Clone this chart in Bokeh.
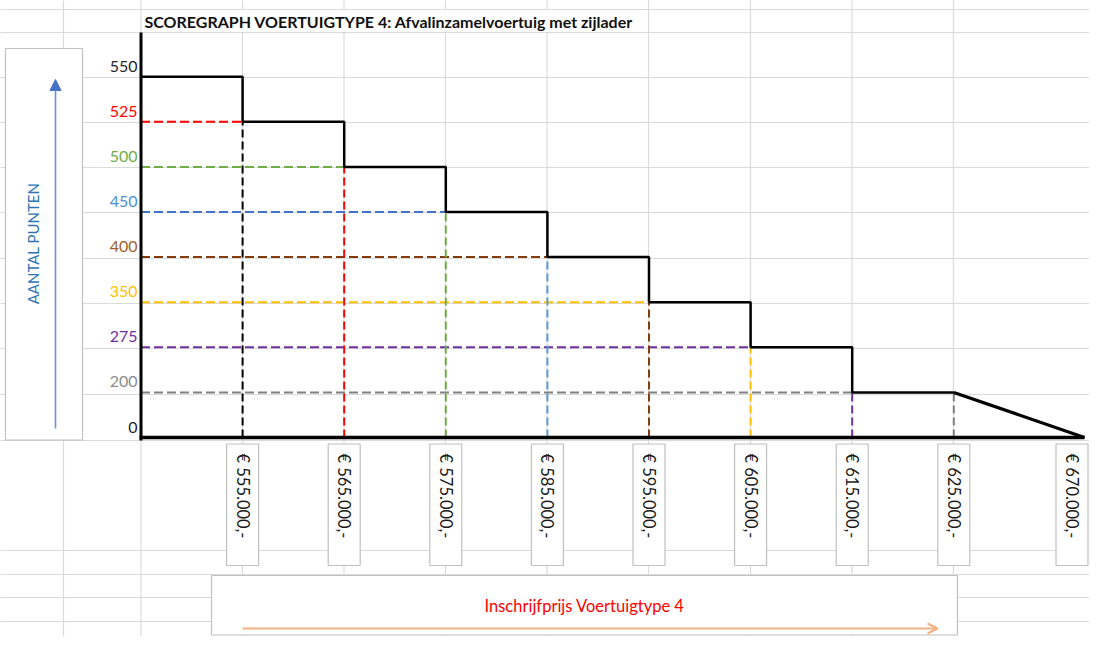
import math
from bokeh.plotting import figure
from bokeh.models import Range1d, Arrow, NormalHead, OpenHead
from bokeh.core.properties import value
from bokeh.embed import file_html
from bokeh.resources import INLINE

# ---------------- data ----------------
TITLE = "SCOREGRAPH VOERTUIGTYPE 4: Afvalinzamelvoertuig met zijlader"
Y_TITLE = "AANTAL PUNTEN"
X_TITLE = "Inschrijfprijs Voertuigtype 4"

prices = [555000, 565000, 575000, 585000, 595000, 605000, 615000, 625000, 670000]
price_labels = ["€ 555.000,-", "€ 565.000,-", "€ 575.000,-", "€ 585.000,-",
                "€ 595.000,-", "€ 605.000,-", "€ 615.000,-", "€ 625.000,-",
                "€ 670.000,-"]
scores = [550, 525, 500, 450, 400, 350, 275, 200, 0]

# ---------------- styles ----------------
score_line_colors = ["#000000", "#ff0000", "#70ad47", "#4472c4", "#843c0c",
                     "#ffc000", "#7030a0", "#808080", "#000000"]
score_text_colors = ["#262626", "#ff0000", "#70ad47", "#4a90d9", "#a0612a",
                     "#ffc000", "#7030a0", "#8c8c8c", "#262626"]
price_line_colors = ["#000000", "#ff0000", "#70ad47", "#5b9bd5", "#843c0c",
                     "#ffc000", "#7030a0", "#808080"]
GRID = "#dadada"
BOXLINE = "#c0c0c0"
FONT = "Lato"

# ---------------- layout mapping (screen px -> ordinal units) ----------------
X0, DX = 140.5, 101.6     # px of the value axis, px per price column
Y0, DY = 437.0, 45.1      # px of the price axis, px per score level
W, H = 1089, 636


def fx(px):
    return (px - X0) / DX


def fy(py):
    return (Y0 - py) / DY


n = len(prices)
# ordinal position of each price; the last price stands apart from the others
xi = list(range(1, n)) + [fx(1084)]
levels = sorted(set(scores))
lvl = {s: i for i, s in enumerate(levels)}

p = figure(width=W, height=H, output_backend="svg", toolbar_location=None,
           x_range=Range1d(fx(0), fx(W)), y_range=Range1d(fy(H), fy(0)),
           x_axis_type=None, y_axis_type=None, min_border=0,
           outline_line_color=None, background_fill_color="white")
p.grid.visible = False

# ---------------- spreadsheet grid ----------------
row_px = [9, 32, 77, 122, 167, 212, 258, 303, 348, 394, 440, 550, 574, 597, 621, 644]
col_px = [63, 140.5, 242, 343.5, 445, 546.5, 648, 750, 851.5, 953]
p.segment(x0=[fx(-10)] * len(row_px), x1=[fx(1200)] * len(row_px),
          y0=[fy(v) for v in row_px], y1=[fy(v) for v in row_px],
          line_color=GRID, line_width=1.2)
vx0, vx1, vy0, vy1 = [], [], [], []
for c in col_px:
    if 200 < c < 600:   # title text overflows these cells
        vx0 += [fx(c), fx(c)]; vx1 += [fx(c), fx(c)]
        vy0 += [fy(-10), fy(32)]; vy1 += [fy(9), fy(700)]
    else:
        vx0.append(fx(c)); vx1.append(fx(c)); vy0.append(fy(-10)); vy1.append(fy(700))
p.segment(x0=vx0, x1=vx1, y0=vy0, y1=vy1, line_color=GRID, line_width=1.2)

# ---------------- boxes ----------------
p.quad(left=[fx(5)], right=[fx(82)], top=[fy(48)], bottom=[fy(439.5)],
       fill_color="white", line_color=BOXLINE, line_width=1.2)
p.quad(left=[fx(211)], right=[fx(957)], top=[fy(575)], bottom=[fy(634.5)],
       fill_color="white", line_color=BOXLINE, line_width=1.2)
half = 16 / DX
lab_x = [min(x, fx(W - 1.5) - half) for x in xi]
p.quad(left=[x - half for x in lab_x], right=[x + half for x in lab_x],
       top=[fy(443.5)] * n, bottom=[fy(565)] * n,
       fill_color="white", line_color=BOXLINE, line_width=1.2)

# ---------------- dashed guide lines ----------------
hx0, hx1, hy, hc = [], [], [], []
for i in range(1, 8):
    hx0.append(0); hx1.append(xi[i - 1]); hy.append(lvl[scores[i]]); hc.append(score_line_colors[i])
p.segment(x0=hx0, x1=hx1, y0=hy, y1=hy, line_color=hc, line_width=2, line_dash="9 4")

vx, vtop, vc = [], [], []
for i in range(8):
    vx.append(xi[i]); vtop.append(lvl[scores[min(i + 1, 7)]]); vc.append(price_line_colors[i])
p.segment(x0=vx, x1=vx, y0=[0] * len(vx), y1=vtop, line_color=vc, line_width=2, line_dash="8 4")

# ---------------- step line ----------------
sx = [0]
sy = [lvl[scores[0]]]
for i in range(7):
    sx += [xi[i], xi[i]]
    sy += [lvl[scores[i]], lvl[scores[i + 1]]]
sx += [xi[7], xi[8]]
sy += [lvl[scores[7]], lvl[scores[8]]]
p.line(sx[:-1], sy[:-1], line_color="black", line_width=2.5)
p.line(sx[-2:], sy[-2:], line_color="black", line_width=3.2)

# ---------------- axes lines ----------------
p.segment(x0=[0], x1=[0], y0=[fy(440)], y1=[fy(32)], line_color="black", line_width=3)
p.segment(x0=[fx(139)], x1=[xi[-1]], y0=[0], y1=[0], line_color="black", line_width=3.5)

# ---------------- tick labels ----------------
p.text(x=[fx(137)] * n, y=[lvl[s] + 10.5 / DY for s in scores], text=[str(s) for s in scores],
       text_color=score_text_colors, text_align="right", text_baseline="middle",
       text_font=value(FONT), text_font_size="16px")
p.text(x=lab_x, y=[fy(453)] * n, text=price_labels, angle=-math.pi / 2,
       text_color="#1a1a1a", text_align="left", text_baseline="middle",
       text_font=value(FONT), text_font_size="16.5px")

# ---------------- titles ----------------
p.text(x=[fx(144)], y=[fy(21)], text=[TITLE], text_color="#111111",
       text_align="left", text_baseline="middle", text_font=value(FONT),
       text_font_size="16px", text_font_style="bold")
p.text(x=[fx(32)], y=[fy(243)], text=[Y_TITLE], angle=math.pi / 2,
       text_color="#2e75b6", text_align="center", text_baseline="middle",
       text_font=value(FONT), text_font_size="15px")
p.text(x=[fx(584)], y=[fy(605)], text=[X_TITLE], text_color="#ff0000",
       text_align="center", text_baseline="middle", text_font=value(FONT),
       text_font_size="16.5px")

# ---------------- arrows ----------------
p.add_layout(Arrow(end=NormalHead(size=11, fill_color="#4472c4", line_color="#4472c4"),
                   x_start=fx(55), y_start=fy(428), x_end=fx(55), y_end=fy(79),
                   line_color="#6f8fd6", line_width=1.6))
p.add_layout(Arrow(end=OpenHead(size=10, line_color="#f4b183", line_width=2),
                   x_start=fx(242), y_start=fy(628), x_end=fx(937), y_end=fy(628),
                   line_color="#f4b183", line_width=2.2))

open("out.html", "w").write(file_html(p, INLINE))
